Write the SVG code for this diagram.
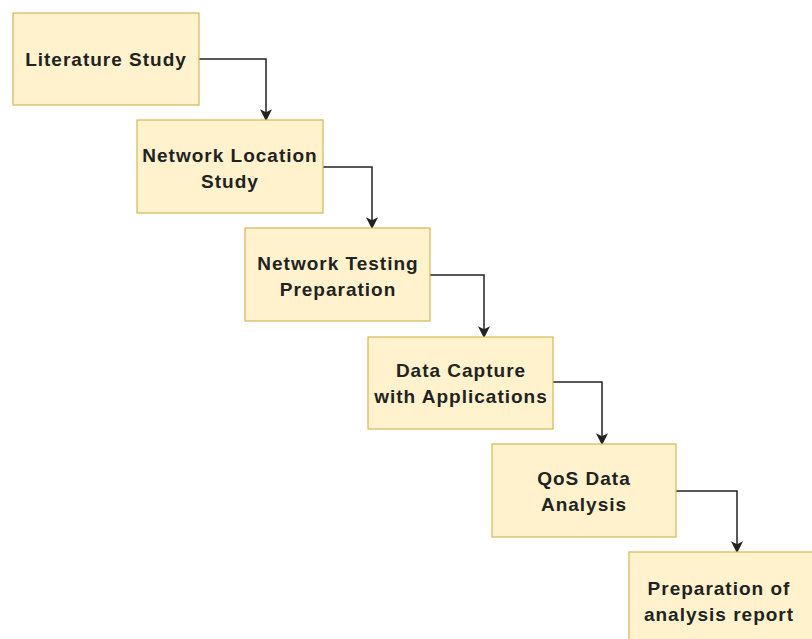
<svg xmlns="http://www.w3.org/2000/svg" width="812" height="639" viewBox="0 0 812 639">
<style>
.box{fill:#fff2cc;stroke:#d6b656;stroke-width:1.2}
.t{font-family:"Liberation Sans",Arial,sans-serif;font-weight:bold;font-size:19px;letter-spacing:1px;fill:#222;text-anchor:middle}
.c{fill:none;stroke:#222;stroke-width:1.5}
</style>
<defs>
<marker id="ah" viewBox="0 0 10 10" refX="9" refY="5" markerWidth="12" markerHeight="12" markerUnits="userSpaceOnUse" orient="auto">
<path d="M0,0 L10,5 L0,10 L2.5,5 Z" fill="#222"/>
</marker>
</defs>
<rect width="812" height="639" fill="#fff"/>
<g id="connectors">
<path class="c" d="M199,59 H266 V120" marker-end="url(#ah)"/>
<path class="c" d="M323,167 H372 V228" marker-end="url(#ah)"/>
<path class="c" d="M430,275 H484 V337" marker-end="url(#ah)"/>
<path class="c" d="M553,382 H602 V444" marker-end="url(#ah)"/>
<path class="c" d="M676,491 H737 V552" marker-end="url(#ah)"/>
</g>
<g id="n1"><rect class="box" x="13" y="13" width="186" height="92"/><text class="t" x="106" y="66">Literature Study</text></g>
<g id="n2"><rect class="box" x="137" y="120" width="186" height="93"/><text class="t" x="230" y="162">Network Location</text><text class="t" x="230" y="188">Study</text></g>
<g id="n3"><rect class="box" x="245" y="228" width="185" height="93"/><text class="t" x="338" y="270">Network Testing</text><text class="t" x="338" y="296">Preparation</text></g>
<g id="n4"><rect class="box" x="368" y="337" width="185" height="92"/><text class="t" x="461" y="377">Data Capture</text><text class="t" x="461" y="403">with Applications</text></g>
<g id="n5"><rect class="box" x="492" y="444" width="184" height="93"/><text class="t" x="584" y="485">QoS Data</text><text class="t" x="584" y="511">Analysis</text></g>
<g id="n6"><rect class="box" x="629" y="552" width="186" height="95"/><text class="t" x="719" y="595">Preparation of</text><text class="t" x="719" y="621">analysis report</text></g>
</svg>
